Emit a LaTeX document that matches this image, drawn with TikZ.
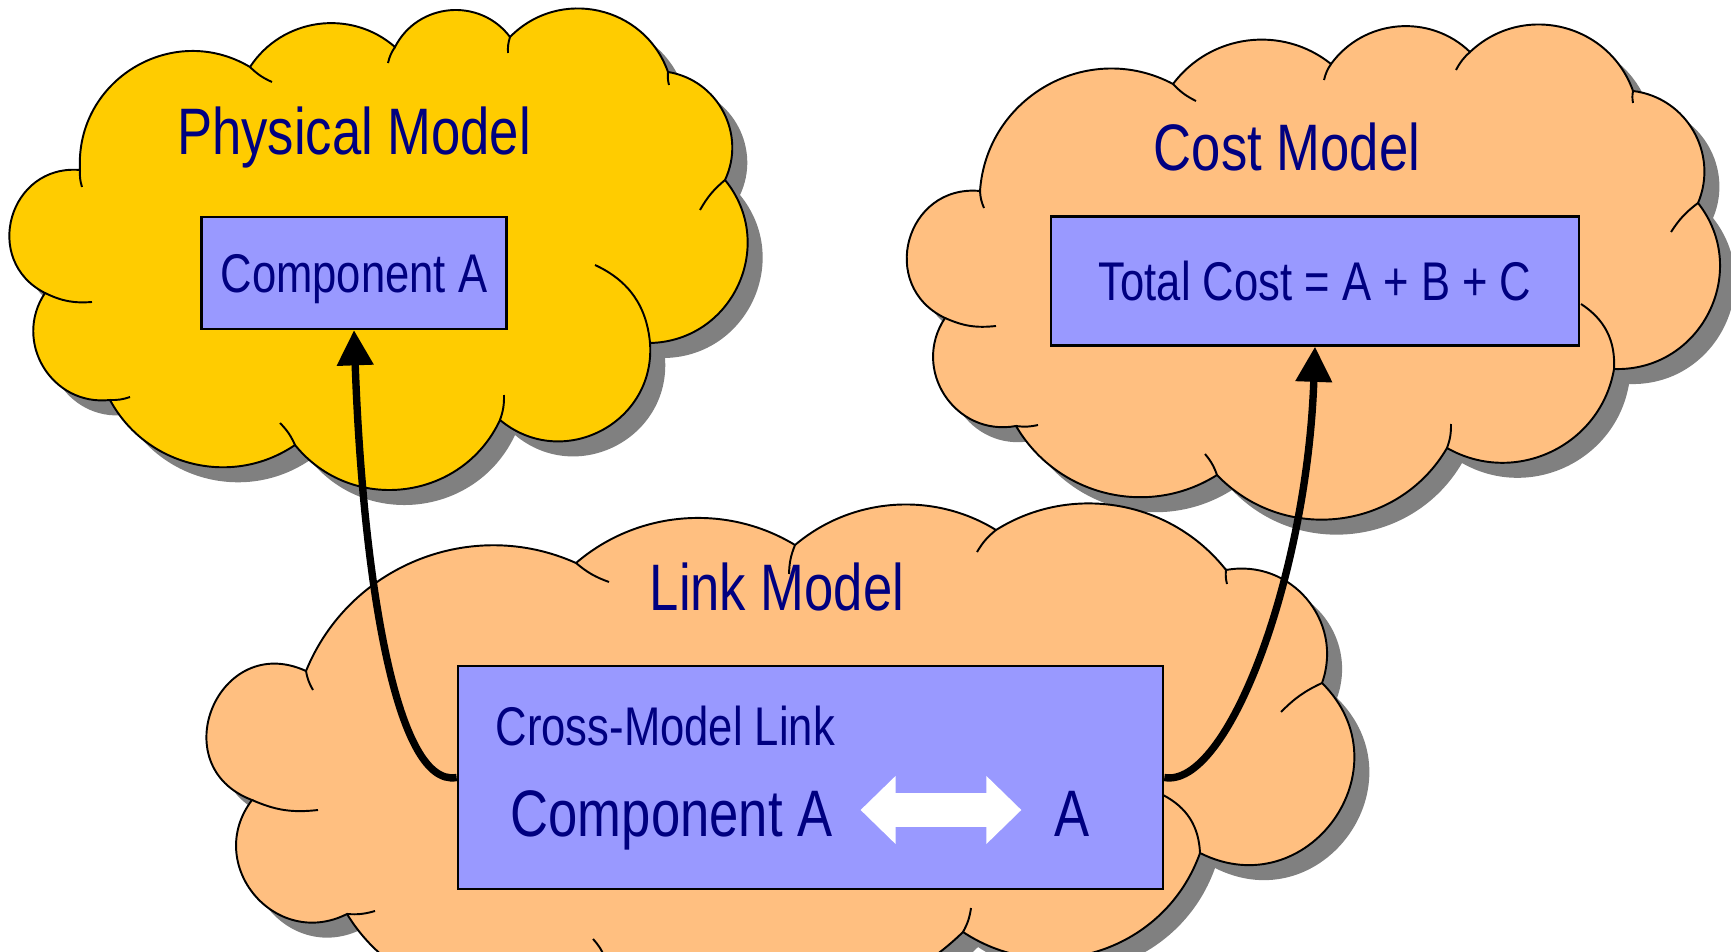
\documentclass[tikz,border=0pt]{standalone}
\usepackage{fontspec}
\setmainfont{Liberation Sans}[FakeStretch=0.8]
\usetikzlibrary{arrows.meta,shadows}
\definecolor{cloudyellow}{RGB}{255,204,0}
\definecolor{cloudorange}{RGB}{255,191,128}
\definecolor{boxblue}{RGB}{153,153,255}
\definecolor{textnavy}{RGB}{0,0,128}
\definecolor{shadowgray}{RGB}{128,128,128}
\newcommand{\titlesize}{\fontsize{18.7}{22}\selectfont}
\newcommand{\boxsize}{\fontsize{15.5}{18}\selectfont}
\tikzset{
  puff/.code={\pgfmathsetmacro\puffloose{0.851/(cos(#1/2)^2)}%
    \edef\puffset{\noexpand\tikzset{bend right=#1,looseness=\puffloose}}\puffset},
}

\begin{document}
\begin{tikzpicture}[x=0.01cm,y=0.01cm,
    puffy/.style={draw=black,line width=0.55pt,
      drop shadow={shadow xshift=0.15cm,shadow yshift=-0.15cm,fill=shadowgray,opacity=1}},
    stub/.style={draw=black,line width=0.55pt},
    modelbox/.style={draw=black,line width=0.65pt,fill=boxblue,text=textnavy,inner sep=0pt,text depth=0pt},
    modeltitle/.style={text=textnavy,font=\titlesize,anchor=base,inner sep=0pt},
    link/.style={line width=2.1pt,-{Triangle[width=10pt,length=10pt]}}]
  \useasboundingbox (0,0) rectangle (1731,-952);
  \clip (0,0) rectangle (1731,-952);

  % Clouds
  \path[puffy,fill=cloudyellow] (80,-170) to[puff=79] (45,-293) to[puff=65] (110,-400)
    to[puff=48] (295,-445) to[puff=58] (500,-420) to[puff=67] (650,-343)
    to[puff=64] (725,-180) to[puff=53] (668,-72) to[puff=58] (510,-37)
    to[puff=58] (395,-47) to[puff=49] (250,-67) to[puff=62] (80,-170) -- cycle;
  \path[stub] (80,-170) to[bend right=10] (82,-187)
    (45,-293) to[bend right=15] (92,-302)
    (110,-400) to[bend right=10] (130,-397)
    (295,-445) to[bend right=10] (280,-423)
    (500,-420) to[bend right=10] (504,-395)
    (650,-343) to[bend right=30] (595,-265)
    (725,-180) to[bend right=10] (700,-210)
    (668,-72) to[bend right=10] (669,-85)
    (510,-37) to[bend right=10] (508,-53)
    (395,-47) to[bend right=10] (388,-63)
    (250,-67) to[bend right=10] (272,-82);

  \path[puffy,fill=cloudorange] (980,-191) to[puff=80] (945,-318) to[puff=67] (1016,-426)
    to[puff=46] (1217,-475) to[puff=53] (1447,-448) to[puff=55] (1614,-369)
    to[puff=65] (1698,-203) to[puff=53] (1633,-91) to[puff=57] (1470,-52)
    to[puff=49] (1331,-64) to[puff=46] (1173,-84) to[puff=57] (980,-191) -- cycle;
  \path[stub] (980,-191) to[bend right=10] (984,-208)
    (945,-318) to[bend right=15] (996,-326)
    (1016,-426) to[bend right=10] (1038,-425)
    (1217,-475) to[bend right=10] (1205,-454)
    (1447,-448) to[bend right=10] (1451,-424)
    (1614,-369) to[bend right=30] (1581,-304)
    (1698,-203) to[bend right=10] (1671,-232)
    (1633,-91) to[bend right=10] (1633,-103)
    (1470,-52) to[bend right=10] (1456,-70)
    (1331,-64) to[bend right=10] (1324,-80)
    (1173,-84) to[bend right=10] (1196,-101);

  \path[puffy,fill=cloudorange] (306,-671) to[puff=92] (252,-800) to[puff=77] (347,-914)
    to[puff=49] (605,-958) to[puff=40] (963,-932) to[puff=52] (1200,-853)
    to[puff=81] (1322,-683) to[puff=60] (1226,-570) to[puff=42] (996,-530)
    to[puff=36] (795,-545) to[puff=36] (576,-563) to[puff=46] (306,-671) -- cycle;
  \path[stub] (306,-671) to[bend right=10] (313,-690)
    (252,-800) to[bend right=15] (318,-810)
    (347,-914) to[bend right=10] (375,-911)
    (605,-958) to[bend right=10] (593,-939)
    (963,-932) to[bend right=10] (971,-908)
    (1200,-853) to[bend right=30] (1163,-795)
    (1322,-683) to[bend right=10] (1281,-712)
    (1226,-570) to[bend right=10] (1227,-584)
    (996,-530) to[bend right=10] (977,-552)
    (795,-545) to[bend right=10] (789,-574)
    (576,-563) to[bend right=10] (609,-582);

  % Titles and boxes
  \node[modeltitle] (phystitle) at (354,-155) {Physical Model};
  \node[modeltitle] (costtitle) at (1287,-171) {Cost Model};
  \node[modeltitle] (linktitle) at (777,-610) {Link Model};

  \node[modelbox,minimum width=3.05cm,minimum height=1.12cm,font=\boxsize] (physbox) at (354,-273) {Component A};
  \node[modelbox,minimum width=5.28cm,minimum height=1.29cm,font=\boxsize] (costbox) at (1315,-281) {Total Cost = A + B + C};
  \node[modelbox,minimum width=7.05cm,minimum height=2.23cm] (linkbox) at (810.5,-777.5) {};

  \node[text=textnavy,font=\boxsize,anchor=base west,inner sep=0pt] (crosslabel) at (495,-745) {Cross-Model Link};
  \node[modeltitle,anchor=base west] (compbig) at (510,-836) {Component A};
  \node[modeltitle] (abig) at (1072,-836) {A};
  \draw[white,line width=9.7pt,{Triangle[width=18.8pt,length=10pt]}-{Triangle[width=18.8pt,length=10pt]},
    shorten <=7.8pt,shorten >=9.2pt] ([yshift=7.4pt]compbig.base east) -- ([yshift=7.4pt]abig.base west);

  % Connections
  \draw[link] (linkbox.west) to[out=190,in=-88,out looseness=0.36,in looseness=1.28] (physbox.south);
  \draw[link] (linkbox.east) to[out=-10,in=-92,out looseness=0.36,in looseness=1.29] (costbox.south);
\end{tikzpicture}
\end{document}
